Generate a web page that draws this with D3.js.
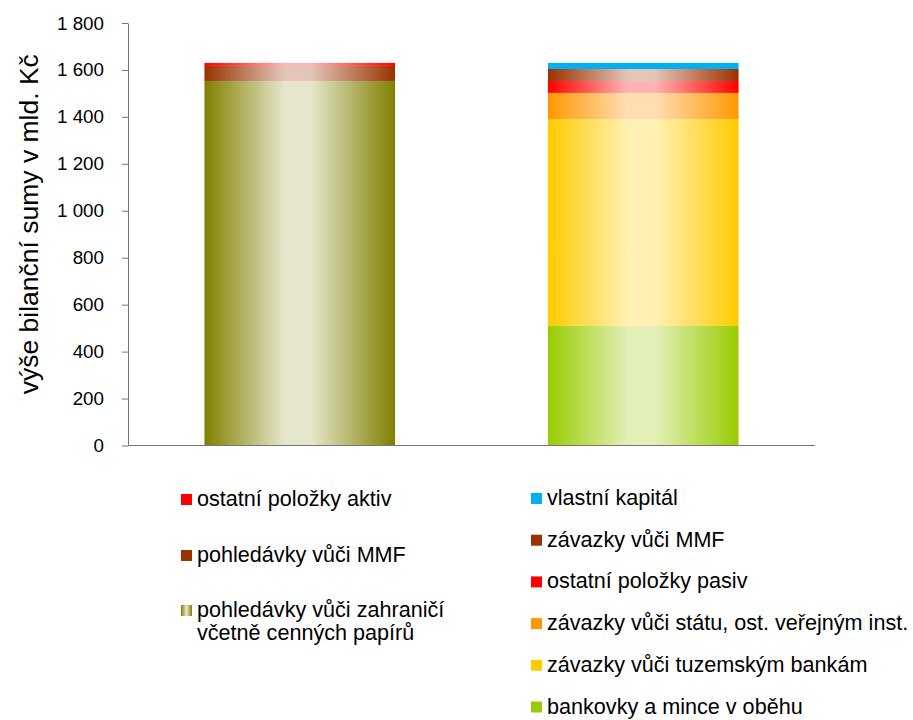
<!DOCTYPE html>
<html><head><meta charset="utf-8">
<script src="https://cdn.jsdelivr.net/npm/d3@7"></script>
<style>body{margin:0;background:#fff;} text{font-family:"Liberation Sans",Arial,sans-serif;}</style>
</head><body>
<svg id="c" width="913" height="720"></svg>
<script>
const categories = ["aktiva", "pasiva"];
const aktivaSeries = ["pohledávky vůči zahraničí včetně cenných papírů", "pohledávky vůči MMF", "ostatní položky aktiv"];
const aktivaValues = [1553, 64, 13];
const pasivaSeries = ["bankovky a mince v oběhu", "závazky vůči tuzemským bankám", "závazky vůči státu, ost. veřejným inst.", "ostatní položky pasiv", "závazky vůči MMF", "vlastní kapitál"];
const pasivaValues = [509, 882, 111, 51, 51, 26];
const yTicks = [0, 200, 400, 600, 800, 1000, 1200, 1400, 1600, 1800];
const yTitle = "výše bilanční sumy v mld. Kč";

const edge = {
  "pohledávky vůči zahraničí včetně cenných papírů": ["#808000", "#e6e6cc"],
  "pohledávky vůči MMF": ["#993300", "#e2c5b8"],
  "ostatní položky aktiv": ["#ff0000", "#ffb4b4"],
  "bankovky a mince v oběhu": ["#99cc00", "#e2f0b8"],
  "závazky vůči tuzemským bankám": ["#ffcc00", "#fff1b4"],
  "závazky vůči státu, ost. veřejným inst.": ["#ff9900", "#ffdeb4"],
  "ostatní položky pasiv": ["#ff0000", "#ffb4b4"],
  "závazky vůči MMF": ["#993300", "#e2c5b8"],
  "vlastní kapitál": ["#00b0f0", "#00b0f0"]
};

const svg = d3.select("#c");
const m = {l: 128, r: 98, t: 23, b: 274.5};
const W = 913 - m.l - m.r, H = 720 - m.t - m.b;
const g = svg.append("g").attr("transform", `translate(${m.l},${m.t})`);

const x = d3.scaleBand().domain(categories).range([0, W]).paddingInner(0.445).paddingOuter(0.2225);
const y = d3.scaleLinear().domain([0, 1800]).range([H, 0]);

const defs = svg.append("defs");
Object.entries(edge).forEach(([k, c], i) => {
  const lg = defs.append("linearGradient").attr("id", "gr" + i).attr("x1", "0").attr("x2", "1").attr("y1", "0").attr("y2", "0");
  lg.append("stop").attr("offset", "0").attr("stop-color", c[0]);
  lg.append("stop").attr("offset", "0.42").attr("stop-color", c[1]);
  lg.append("stop").attr("offset", "0.56").attr("stop-color", c[1]);
  lg.append("stop").attr("offset", "1").attr("stop-color", c[0]);
  edge[k].id = "gr" + i;
});
const lz = defs.append("linearGradient").attr("id", "legz").attr("x1", "0").attr("x2", "1");
[["0", "#808000"], ["0.5", "#e6e6cc"], ["1", "#808000"]].forEach(s => lz.append("stop").attr("offset", s[0]).attr("stop-color", s[1]));

function stackData(cat, names, vals) {
  const cs = d3.cumsum(vals);
  return names.map((n, i) => ({cat, name: n, y0: cs[i] - vals[i], y1: cs[i]}));
}
const rects = stackData("aktiva", aktivaSeries, aktivaValues).concat(stackData("pasiva", pasivaSeries, pasivaValues));
g.selectAll("rect.bar").data(rects).enter().append("rect").attr("class", "bar")
  .attr("x", d => x(d.cat)).attr("width", x.bandwidth())
  .attr("y", d => y(d.y1)).attr("height", d => y(d.y0) - y(d.y1))
  .attr("fill", d => `url(#${edge[d.name].id})`);

const fmt = d3.formatLocale({decimal: ",", thousands: " ", grouping: [3], currency: ["", ""]}).format(",d");
const ya = g.append("g").call(d3.axisLeft(y).tickValues(yTicks).tickFormat(fmt).tickSize(6).tickSizeOuter(0).tickPadding(18));
ya.select(".domain").attr("stroke", "#777");
ya.selectAll(".tick line").attr("stroke", "#777");
ya.selectAll("text").attr("font-size", 18.8).attr("fill", "#000").style("font-family", "Liberation Sans, Arial, sans-serif");
g.append("line").attr("x1", 0).attr("x2", W).attr("y1", H).attr("y2", H).attr("stroke", "#777");

svg.append("text").attr("transform", `translate(38,${m.t + H / 2 - 10}) rotate(-90)`).attr("text-anchor", "middle")
  .attr("font-size", 26.5).text(yTitle);

const legLeft = [
  {name: "ostatní položky aktiv", lines: ["ostatní položky aktiv"], cy: 499.5},
  {name: "pohledávky vůči MMF", lines: ["pohledávky vůči MMF"], cy: 555.5},
  {name: "pohledávky vůči zahraničí včetně cenných papírů", lines: ["pohledávky vůči zahraničí", "včetně cenných papírů"], cy: 610.5}
];
const legRight = pasivaSeries.slice().reverse().map((n, i) => ({name: n, lines: [n], cy: 498.5 + i * 41.7}));
function drawLeg(items, lx) {
  items.forEach(it => {
    const col = edge[it.name][0];
    svg.append("rect").attr("x", lx).attr("y", it.cy - 5.5).attr("width", 11).attr("height", 11)
      .attr("fill", it.name.startsWith("pohledávky vůči zahraničí") ? "url(#legz)" : col);
    const tx = lx + 16;
    const t = svg.append("text").attr("transform", `translate(${tx},${it.cy + 6.5}) scale(0.96,1)`)
      .attr("font-size", 22.5).attr("fill", "#000");
    it.lines.forEach((l, j) => t.append("tspan").attr("x", 0).attr("dy", j ? 23.5 : 0).text(l));
  });
}
drawLeg(legLeft, 181);
drawLeg(legRight, 531);
</script>
</body></html>
